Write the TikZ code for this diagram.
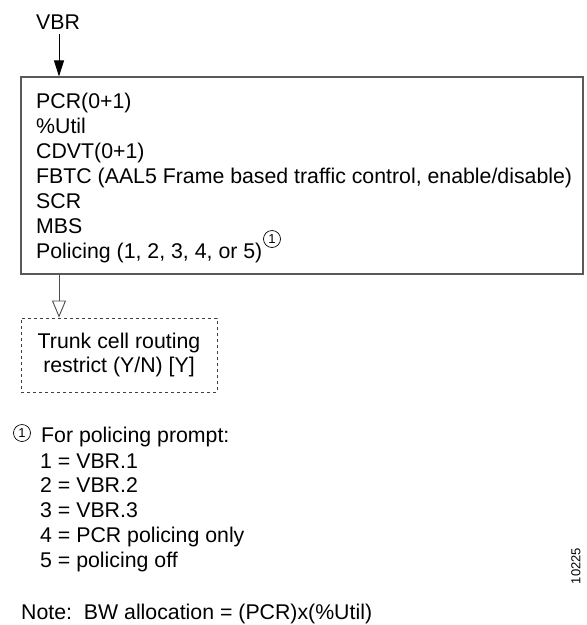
\documentclass[tikz,border=0pt]{standalone}
\usepackage{fontspec}
\setmainfont{Liberation Sans}
\usetikzlibrary{arrows.meta}
\begin{document}
\begin{tikzpicture}[x=1pt,y=-1pt,
  txt/.style={anchor=base west,inner sep=0pt,font=\fontsize{21.3}{25}\selectfont},
  ctxt/.style={anchor=base,inner sep=0pt,font=\fontsize{21.3}{25}\selectfont},
  framebox/.style={draw=black!65,line width=1.1pt,inner sep=0pt},
  dashbox/.style={draw=black!75,line width=0.9pt,dash pattern=on 3pt off 3pt,inner sep=0pt},
  circnum/.style={circle,draw,line width=0.7pt,inner sep=0pt,minimum size=17pt,font=\fontsize{13}{13}\selectfont},
  solidarrow/.style={line width=0.9pt,-{Triangle[length=16pt,width=10pt]}},
  openarrow/.style={draw=black!70,line width=0.9pt,-{Triangle[open,length=17pt,width=14pt,fill=white]}}
]
\useasboundingbox (0,0) rectangle (587,625);

% input label
\node[ctxt] (vbr) at (58,29) {VBR};

% parameter box
\node[framebox,minimum width=562pt,minimum height=197pt] (params) at (302,175.5) {};
\foreach \txtline [count=\i] in {PCR(0+1),\%Util,CDVT(0+1),{FBTC (AAL5 Frame based traffic control, enable/disable)},SCR,MBS,{Policing (1, 2, 3, 4, or 5)}}
  \node[txt] (line\i) at (36,{83+25*\i}) {\txtline};
\node[circnum] (mark) at (272,239) {1};

% optional prompt box
\node[dashbox,minimum width=196pt,minimum height=74pt] (trunk) at (119,355) {};
\node[ctxt] (trunk1) at (119,348) {Trunk cell routing};
\node[ctxt] (trunk2) at (119,372) {restrict (Y/N) [Y]};

% connectors
\draw[solidarrow] (vbr.south) ++(1,5) coordinate (vbrtail) -- (vbrtail |- params.north);
\draw[openarrow] (vbrtail |- params.south) -- (vbrtail |- trunk.north);

% footnote
\node[circnum] (fnmark) at (22,433) {1};
\node[txt] (fn0) at (41,442) {For policing prompt:};
\node[txt] (fn1) at (40,468) {1 = VBR.1};
\node[txt] (fn2) at (40,492) {2 = VBR.2};
\node[txt] (fn3) at (40,517) {3 = VBR.3};
\node[txt] (fn4) at (40,542) {4 = PCR policing only};
\node[txt] (fn5) at (40,567) {5 = policing off};

\node[txt] (note) at (21,619) {Note:\ \ BW allocation = (PCR)x(\%Util)};

% figure number
\node[rotate=90,inner sep=0pt,font=\fontsize{13}{13}\selectfont] (fignum) at (576,566) {10225};
\end{tikzpicture}
\end{document}
